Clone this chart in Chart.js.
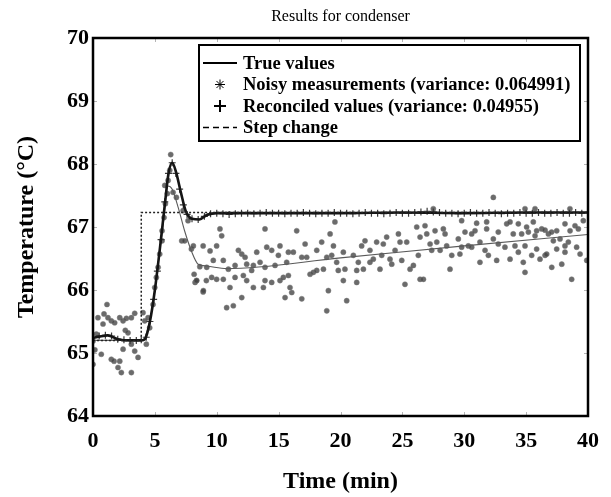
<!DOCTYPE html>
<html>
<head>
<meta charset="utf-8">
<title>Results for condenser</title>
<script src="https://cdn.jsdelivr.net/npm/chart.js@4.4.0/dist/chart.umd.min.js"></script>
<style>
  html, body { margin: 0; padding: 0; background: #fff; }
</style>
</head>
<body>
<canvas id="chart" width="611" height="497"></canvas>
<script>
// axis ticks
const xTicks = [0, 5, 10, 15, 20, 25, 30, 35, 40];
const yTicks = [64, 65, 66, 67, 68, 69, 70];

// step change (set point)
const stepTime = [0, 3.9, 3.9, 40];
const stepTemp = [65.2, 65.2, 67.23, 67.23];

// true values (thick line)
const trueTime = [0, 0.5, 1.2, 2.0, 3.0, 3.9, 4.2, 4.6, 5.0, 5.4, 5.8, 6.1, 6.4, 6.7, 7.1, 7.5, 8.0, 8.6, 9.2, 10, 15, 20, 25, 30, 35, 40];
const trueTemp = [65.24, 65.26, 65.28, 65.22, 65.2, 65.2, 65.22, 65.5, 66.0, 66.65, 67.35, 67.85, 68.02, 67.88, 67.55, 67.25, 67.13, 67.12, 67.19, 67.22, 67.22, 67.22, 67.23, 67.22, 67.23, 67.23];

// thin trend line through the measurements
const trendTime = [0, 3.9, 4.2, 4.85, 5.25, 5.65, 6.05, 6.4, 6.9, 7.4, 7.95, 8.5, 9.2, 10.8, 20, 30, 40];
const trendTemp = [65.2, 65.2, 65.25, 65.78, 66.4, 67.0, 67.65, 67.6, 67.3, 66.94, 66.62, 66.41, 66.38, 66.34, 66.51, 66.7, 66.88];

// reconciled values (+)
const reconTime = [
  0, 0.5, 1, 1.5, 2, 2.5, 3, 3.5, 3.9, 4.3,
  4.6, 4.9, 5.2, 5.5, 5.8, 6.1, 6.4, 6.7, 7.0, 7.3,
  7.6, 8.0, 8.5, 9.0, 9.5, 10, 10.5, 11, 11.5, 12,
  12.5, 13, 13.5, 14, 14.5, 15, 15.5, 16, 16.5, 17,
  17.5, 18, 18.5, 19, 19.5, 20, 20.5, 21, 21.5, 22,
  22.5, 23, 23.5, 24, 24.5, 25, 25.5, 26, 26.5, 27,
  27.5, 28, 28.5, 29, 29.5, 30, 30.5, 31, 31.5, 32,
  32.5, 33, 33.5, 34, 34.5, 35, 35.5, 36, 36.5, 37,
  37.5, 38, 38.5, 39, 39.5, 40
];
const reconTemp = [
  65.25, 65.27, 65.28, 65.27, 65.22, 65.21, 65.2, 65.2, 65.21, 65.25,
  65.5, 65.85, 66.3, 66.8, 67.4, 67.85, 68.02, 67.85, 67.6, 67.35,
  67.2, 67.13, 67.12, 67.17, 67.21, 67.22, 67.21, 67.2, 67.21, 67.22,
  67.22, 67.21, 67.22, 67.23, 67.22, 67.22, 67.21, 67.22, 67.22, 67.23,
  67.22, 67.21, 67.22, 67.22, 67.23, 67.22, 67.22, 67.21, 67.22, 67.23,
  67.22, 67.22, 67.21, 67.22, 67.23, 67.22, 67.22, 67.23, 67.24, 67.25,
  67.24, 67.23, 67.22, 67.22, 67.21, 67.22, 67.23, 67.22, 67.22, 67.23,
  67.22, 67.21, 67.22, 67.22, 67.23, 67.22, 67.22, 67.23, 67.22, 67.22,
  67.23, 67.22, 67.22, 67.23, 67.22, 67.23
];

// noisy measurements (*)
const noisyTime = [
  0.0, 0.0, 0.15, 0.27, 0.4, 0.67, 0.81, 0.89, 1.13, 1.21,
  1.48, 1.48, 1.70, 1.75, 2.02, 2.16, 2.16, 2.29, 2.43, 2.43,
  2.61, 2.70, 2.83, 3.10, 3.10, 3.10, 3.37, 3.37, 3.64, 4.04,
  4.18, 4.31,
  4.45, 4.58, 4.85, 4.99, 5.12, 5.26, 5.39, 5.58, 5.58, 5.74,
  5.80, 5.85, 6.01, 6.07, 6.20, 6.28, 6.47, 6.74, 7.17, 7.28,
  7.41, 7.68, 7.95, 8.11, 8.17, 8.25, 8.36, 8.38, 8.63, 8.90,
  8.90, 8.92, 9.16, 9.19, 9.46,
  9.59, 9.72, 9.99, 9.99, 10.26, 10.40, 10.53, 10.53, 10.80, 10.94,
  11.07, 11.34, 11.48, 11.48, 11.75, 12.02, 12.02, 12.15, 12.29, 12.42,
  12.42, 12.82, 12.96, 12.96, 13.23, 13.50, 13.77, 13.90, 13.90, 13.90,
  14.04, 14.44, 14.44, 14.71, 14.98, 15.11, 15.11, 15.38, 15.52, 15.65,
  15.79, 15.79, 15.92, 16.06, 16.19, 16.46, 16.87, 16.87, 17.14, 17.27,
  17.54, 17.81, 18.08, 18.08, 18.48, 18.62, 18.89, 18.89, 19.02, 19.16,
  19.29, 19.43,
  19.55, 19.69, 19.82, 20.23, 20.23, 20.36, 20.50, 21.04, 21.31, 21.31,
  21.44, 21.71, 21.85, 21.98, 22.38, 22.38, 22.65, 22.92, 23.19, 23.33,
  23.46, 23.73, 24.00, 24.14, 24.41, 24.68, 24.81, 24.95, 25.21, 25.35,
  25.62, 25.89, 26.16, 26.29, 26.43, 26.43, 26.70, 26.83, 26.97, 27.24,
  27.37, 27.50, 27.64, 27.78, 28.05, 28.31, 28.45, 28.58, 28.85, 28.99,
  29.52, 29.65, 29.79, 29.79, 30.06, 30.33, 30.60, 30.60, 30.87, 31.00,
  31.27, 31.27, 31.68, 31.81, 31.81, 31.95, 32.35, 32.35, 32.62, 32.75,
  32.75, 33.29, 33.43, 33.70, 33.70, 33.96, 34.10, 34.37, 34.37, 34.64,
  34.77, 34.91, 34.91, 34.91, 35.04, 35.18, 35.45, 35.58, 35.72, 35.72,
  35.85, 35.85, 36.12, 36.26, 36.53, 36.53, 36.66, 36.80, 37.06, 37.07,
  37.20, 37.47, 37.47, 37.74, 37.88, 38.14, 38.14, 38.14, 38.41, 38.54,
  38.55, 38.68, 38.95, 39.08, 39.22, 39.36, 39.62, 39.90
];
const noisyTemp = [
  64.82, 65.19, 65.05, 65.30, 65.56, 64.98, 65.46, 65.62, 65.77, 65.56,
  65.51, 64.90, 64.87, 65.48, 64.77, 65.56, 64.87, 64.69, 65.06, 65.51,
  65.36, 65.55, 65.32, 65.14, 64.69, 65.56, 65.63, 65.03, 64.93, 65.64,
  65.51, 65.14,
  65.56, 65.40, 65.77, 66.04, 66.20, 66.36, 66.57, 66.78, 66.94, 67.15,
  67.66, 67.37, 67.53, 67.74, 67.90, 68.15, 67.55, 67.47, 66.78, 67.26,
  66.78, 67.10, 66.65, 66.70, 66.25, 66.12, 66.15, 66.15, 66.37, 66.70,
  65.97, 65.99, 66.15, 66.36, 66.62,
  66.20, 66.47, 66.70, 66.17, 66.97, 66.86, 66.47, 66.17, 65.72, 66.33,
  66.04, 65.75, 66.39, 66.20, 66.63, 66.57, 65.88, 66.23, 66.52, 66.41,
  66.15, 66.31, 66.39, 66.04, 66.60, 66.44, 66.04, 66.97, 66.36, 66.15,
  66.68, 66.63, 66.12, 66.39, 66.55, 66.70, 66.15, 66.20, 65.88, 66.44,
  66.60, 66.23, 66.04, 65.96, 66.60, 66.94, 66.52, 65.86, 66.73, 66.52,
  66.25, 66.28, 66.63, 66.31, 66.76, 66.33, 66.52, 65.67, 65.99, 66.89,
  66.55, 66.70,
  67.08, 66.44, 66.31, 66.60, 66.15, 66.33, 65.83, 66.55, 66.31, 66.12,
  66.44, 66.70, 66.33, 66.78, 66.63, 66.44, 66.49, 66.76, 66.33, 66.55,
  66.73, 66.84, 66.49, 66.41, 66.63, 66.89, 66.76, 66.47, 66.09, 66.76,
  66.33, 66.39, 67.00, 66.55, 66.84, 66.17, 66.17, 67.02, 66.89, 66.73,
  66.63, 67.29, 66.94, 66.76, 66.63, 66.97, 66.89, 66.70, 66.33, 66.55,
  66.81, 66.57, 67.10, 66.68, 66.92, 66.70, 66.89, 66.68, 66.94, 67.06,
  66.76, 66.44, 66.63, 67.08, 66.97, 66.55, 67.47, 66.81, 66.47, 66.92,
  66.73, 66.68, 67.05, 67.08, 66.49, 66.89, 66.70, 67.05, 66.60, 66.89,
  66.44, 67.29, 66.70, 66.28, 67.00, 66.92, 66.55, 67.08, 67.29, 66.86,
  66.94, 66.65, 66.49, 66.97, 66.95, 66.55, 66.57, 66.89, 66.92, 66.36,
  66.78, 66.94, 66.65, 66.81, 66.41, 67.05, 66.70, 66.60, 66.76, 67.29,
  66.94, 66.17, 67.02, 66.68, 66.97, 66.57, 67.10, 66.47
];

const toPoints = (xs, ys) => xs.map((x, i) => ({ x: x, y: ys[i] }));
const serif = '"Liberation Serif", "Times New Roman", serif';

// frame with inner tick marks, like the original plot box
const framePlugin = {
  id: 'frame',
  afterDatasetsDraw(chart) {
    const { ctx, chartArea: a, scales } = chart;
    ctx.save();
    ctx.strokeStyle = '#b5b5b5';
    ctx.lineWidth = 1;
    ctx.beginPath();
    xTicks.forEach(v => {
      const px = Math.round(scales.x.getPixelForValue(v)) + 0.5;
      ctx.moveTo(px, a.bottom); ctx.lineTo(px, a.bottom - 4);
      ctx.moveTo(px, a.top); ctx.lineTo(px, a.top + 4);
    });
    yTicks.forEach(v => {
      const py = Math.round(scales.y.getPixelForValue(v)) + 0.5;
      ctx.moveTo(a.left, py); ctx.lineTo(a.left + 4, py);
      ctx.moveTo(a.right, py); ctx.lineTo(a.right - 4, py);
    });
    ctx.stroke();
    ctx.strokeStyle = '#000';
    ctx.lineWidth = 2.5;
    ctx.strokeRect(a.left, a.top, a.right - a.left, a.bottom - a.top);
    ctx.restore();
  }
};

// boxed legend inside the plot, top right
const boxLegend = {
  id: 'boxLegend',
  afterDraw(chart) {
    const { ctx, chartArea: a } = chart;
    const left = a.left + 106, top = a.top + 7, right = a.right - 8, height = 96;
    ctx.save();
    ctx.fillStyle = '#fff';
    ctx.fillRect(left, top, right - left, height);
    ctx.strokeStyle = '#000';
    ctx.lineWidth = 2;
    ctx.strokeRect(left, top, right - left, height);
    const items = chart.data.datasets.filter(d => d.showInBox);
    items.sort((p, q) => p.boxRow - q.boxRow);
    ctx.font = 'bold 18.5px ' + serif;
    ctx.textBaseline = 'middle';
    items.forEach((ds, i) => {
      const y = top + 18 + i * 21.5;
      const x0 = left + 4, x1 = left + 38, xm = (x0 + x1) / 2;
      ctx.strokeStyle = '#000';
      ctx.fillStyle = '#000';
      if (ds.boxSymbol === 'line' || ds.boxSymbol === 'dash') {
        ctx.lineWidth = ds.boxSymbol === 'line' ? 2 : 1.5;
        ctx.setLineDash(ds.boxSymbol === 'dash' ? [6, 4] : []);
        ctx.beginPath(); ctx.moveTo(x0, y); ctx.lineTo(x1, y); ctx.stroke();
        ctx.setLineDash([]);
      } else {
        ctx.lineWidth = ds.boxSymbol === 'star' ? 1 : 2;
        Chart.helpers.drawPoint(ctx, {
          pointStyle: ds.boxSymbol, radius: ds.boxSymbol === 'star' ? 5 : 6, rotation: 0, borderWidth: ctx.lineWidth
        }, xm, y);
      }
      ctx.fillStyle = '#000';
      ctx.fillText(ds.label, left + 44, y + 1);
    });
    ctx.restore();
  }
};

new Chart(document.getElementById('chart'), {
  type: 'line',
  data: {
    datasets: [
      {
        label: 'Step change',
        data: toPoints(stepTime, stepTemp),
        borderColor: '#222', borderWidth: 1.5, borderDash: [2, 2],
        pointRadius: 0, tension: 0, order: 1,
        showInBox: true, boxRow: 3, boxSymbol: 'dash'
      },
      {
        label: 'True values',
        data: toPoints(trueTime, trueTemp),
        borderColor: '#151515', borderWidth: 2.6,
        pointRadius: 0, cubicInterpolationMode: 'monotone', order: 2,
        showInBox: true, boxRow: 0, boxSymbol: 'line'
      },
      {
        label: 'Reconciled values (variance: 0.04955)',
        data: toPoints(reconTime, reconTemp),
        showLine: false,
        pointStyle: 'cross', pointRadius: 3.5, pointBorderWidth: 1.2,
        pointBorderColor: '#3a3a3a', order: 3,
        showInBox: true, boxRow: 2, boxSymbol: 'cross'
      },
      {
        label: 'Trend',
        data: toPoints(trendTime, trendTemp),
        borderColor: '#5a5a5a', borderWidth: 1.1,
        pointRadius: 0, cubicInterpolationMode: 'monotone', order: 4
      },
      {
        label: 'Noisy measurements (variance: 0.064991)',
        data: toPoints(noisyTime, noisyTemp),
        showLine: false,
        pointStyle: 'circle', pointRadius: 2.6, pointBorderWidth: 1,
        pointBackgroundColor: 'rgba(65,65,65,0.78)',
        pointBorderColor: 'rgba(120,120,120,0.45)', order: 5,
        showInBox: true, boxRow: 1, boxSymbol: 'star'
      }
    ]
  },
  options: {
    responsive: false,
    animation: false,
    layout: { padding: { top: 0, right: 23, bottom: 0, left: 0 } },
    plugins: {
      legend: { display: false },
      tooltip: { enabled: false },
      title: {
        display: true,
        fullSize: false,
        text: 'Results for condenser',
        color: '#000',
        font: { family: serif, size: 16, weight: 'normal' },
        padding: { top: 7, bottom: 11.8 }
      }
    },
    scales: {
      x: {
        type: 'linear', min: 0, max: 40,
        afterBuildTicks: s => { s.ticks = xTicks.map(v => ({ value: v })); },
        afterFit: s => { s.height = 81; },
        grid: { display: false, drawTicks: false },
        border: { display: false },
        ticks: { color: '#000', padding: 12, maxRotation: 0, font: { family: serif, size: 22, weight: 'bold' } },
        title: {
          display: true, text: 'Time (min)', color: '#000',
          font: { family: serif, size: 24, weight: 'bold' },
          padding: { top: 0, bottom: 1 }
        }
      },
      y: {
        type: 'linear', min: 64, max: 70,
        afterBuildTicks: s => { s.ticks = yTicks.map(v => ({ value: v })); },
        afterFit: s => { s.width = 93; },
        grid: { display: false, drawTicks: false },
        border: { display: false },
        ticks: { color: '#000', padding: 4, font: { family: serif, size: 22, weight: 'bold' } },
        title: {
          display: true, text: 'Temperature (°C)', color: '#000',
          font: { family: serif, size: 24, weight: 'bold' },
          padding: { top: 12.6, bottom: 0 }
        }
      }
    }
  },
  plugins: [framePlugin, boxLegend]
});
</script>
</body>
</html>
